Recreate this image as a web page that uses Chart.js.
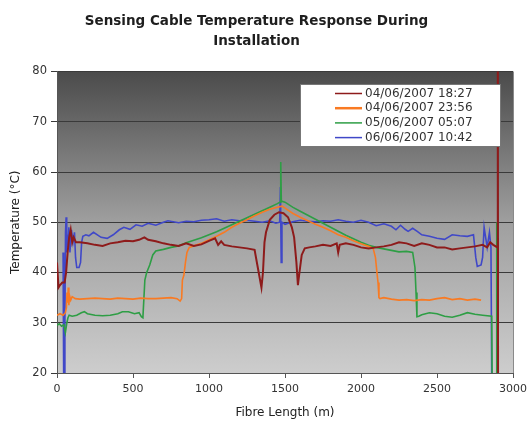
<!DOCTYPE html>
<html>
<head>
<meta charset="utf-8">
<script src="https://cdn.jsdelivr.net/npm/chart.js@4/dist/chart.umd.min.js"></script>
<style>
  html, body { margin: 0; padding: 0; background: #fff; }
</style>
</head>
<body>
<canvas id="cableChart" width="528" height="421"></canvas>
<script>
const seriesLabels = ['04/06/2007 18:27', '04/06/2007 23:56', '05/06/2007 05:07', '06/06/2007 10:42'];
const seriesColors = ['#8e1b1b', '#f97a22', '#2e9e45', '#4048c8'];
const xTicks = [0, 500, 1000, 1500, 2000, 2500, 3000];
const yTicks = [20, 30, 40, 50, 60, 70, 80];

// 04/06/2007 18:27
const redFibre = [0, 10, 20, 35, 50, 60, 70, 80, 90, 100, 110, 125, 150, 200, 250, 300, 350, 400, 450, 500, 540, 575, 600, 650, 700, 750, 800, 850, 900, 950, 1000, 1040, 1060, 1080, 1100, 1150, 1200, 1250, 1300, 1315, 1330, 1345, 1355, 1365, 1375, 1400, 1430, 1460, 1490, 1520, 1545, 1560, 1575, 1585, 1595, 1610, 1630, 1660, 1700, 1750, 1800, 1840, 1850, 1860, 1900, 1950, 2000, 2050, 2100, 2150, 2200, 2250, 2300, 2350, 2400, 2450, 2500, 2550, 2600, 2650, 2700, 2750, 2800, 2830, 2850, 2870, 2898, 2900, 2902];
const redTemp  = [42, 37, 37.5, 38, 38, 40, 44, 47, 48.5, 46, 47, 46, 46, 45.8, 45.5, 45.3, 45.8, 46, 46.3, 46.2, 46.5, 47, 46.5, 46.2, 45.8, 45.5, 45.3, 45.8, 45.3, 45.6, 46.3, 46.8, 45.5, 46.2, 45.5, 45.2, 45, 44.8, 44.5, 42, 39.5, 37, 40, 46, 48, 50.5, 51.5, 52, 51.8, 51, 49, 47, 42, 37.5, 40, 43.5, 44.8, 45, 45.2, 45.5, 45.3, 45.8, 44, 45.5, 45.8, 45.5, 45, 44.8, 45, 45.2, 45.5, 46, 45.8, 45.3, 45.8, 45.5, 45, 45, 44.6, 44.8, 45, 45.2, 45.5, 45, 46, 45.5, 45, 100, 10];

// 04/06/2007 23:56
const orangeFibre = [0, 20, 40, 55, 62, 66, 70, 74, 78, 82, 90, 100, 120, 150, 200, 250, 300, 350, 400, 450, 500, 550, 600, 650, 700, 750, 790, 810, 820, 825, 835, 845, 855, 870, 900, 950, 1000, 1050, 1100, 1150, 1200, 1250, 1300, 1350, 1400, 1450, 1480, 1500, 1550, 1600, 1650, 1700, 1750, 1800, 1850, 1900, 1950, 2000, 2050, 2080, 2095, 2105, 2112, 2118, 2125, 2150, 2200, 2250, 2300, 2350, 2400, 2450, 2500, 2550, 2600, 2650, 2700, 2750, 2790];
const orangeTemp  = [31.5, 31.8, 31.5, 32, 33, 36, 34, 37, 33.5, 35.5, 34.5, 35.2, 34.8, 34.7, 34.8, 34.9, 34.8, 34.7, 34.9, 34.8, 34.7, 34.9, 34.8, 34.8, 34.9, 35, 34.8, 34.3, 34.8, 38.5, 39.5, 42, 44, 45, 45.3, 45.8, 46.5, 47.2, 48, 49, 49.8, 50.5, 51.3, 52, 52.6, 53, 53.2, 52.8, 51.8, 51, 50.3, 49.6, 49, 48.3, 47.5, 47, 46.3, 45.7, 45.2, 44.8, 43, 40, 38, 35, 34.8, 35, 34.7, 34.5, 34.6, 34.4, 34.6, 34.5, 34.8, 35, 34.6, 34.8, 34.5, 34.7, 34.5];

// 05/06/2007 05:07
const greenFibre = [0, 15, 30, 45, 55, 65, 72, 80, 100, 130, 160, 180, 200, 250, 300, 350, 400, 430, 470, 510, 540, 555, 565, 572, 578, 590, 610, 630, 650, 700, 750, 800, 850, 900, 950, 1000, 1050, 1100, 1150, 1200, 1250, 1300, 1350, 1400, 1450, 1468, 1472, 1476, 1500, 1550, 1600, 1650, 1700, 1750, 1800, 1850, 1900, 1950, 2000, 2050, 2100, 2150, 2200, 2250, 2300, 2340, 2355, 2362, 2368, 2380, 2400, 2450, 2500, 2550, 2600, 2650, 2700, 2750, 2800, 2860, 2865, 2890, 2893, 2896];
const greenTemp  = [29.5, 29.8, 29.3, 29.6, 28, 30, 31, 31.5, 31.3, 31.5, 32, 32.2, 31.8, 31.5, 31.4, 31.5, 31.8, 32.2, 32.2, 31.8, 32, 31.2, 31, 35, 38.5, 40, 41.5, 43.5, 44.3, 44.6, 45, 45.3, 45.9, 46.4, 46.9, 47.5, 48.1, 48.8, 49.5, 50.2, 50.9, 51.6, 52.3, 53, 53.7, 54, 62, 54.2, 54, 53, 52.2, 51.4, 50.6, 49.8, 49, 48.2, 47.4, 46.7, 46, 45.4, 45, 44.7, 44.4, 44.1, 44.2, 44, 41, 36, 31.2, 31.3, 31.6, 32, 31.8, 31.3, 31.1, 31.5, 32, 31.7, 31.5, 31.3, 10, 10, 50, 10];

// 06/06/2007 10:42
const blueFibre = [40, 44, 48, 52, 56, 60, 64, 68, 72, 78, 85, 95, 105, 115, 122, 130, 145, 155, 162, 170, 190, 210, 240, 290, 330, 370, 410, 440, 480, 520, 560, 600, 650, 700, 730, 800, 850, 900, 950, 1000, 1050, 1100, 1150, 1200, 1250, 1300, 1350, 1400, 1440, 1465, 1470, 1475, 1480, 1500, 1550, 1600, 1650, 1700, 1750, 1800, 1850, 1900, 1950, 2000, 2050, 2100, 2150, 2200, 2230, 2260, 2290, 2310, 2340, 2370, 2400, 2450, 2500, 2550, 2600, 2650, 2700, 2740, 2755, 2765, 2790, 2800, 2810, 2820, 2830, 2845, 2855, 2860, 2862];
const blueTemp  = [44, 18, 15, 30, 48, 51, 44, 47.5, 45, 49, 44, 48.5, 46, 48, 43, 41, 41, 42, 46, 47.2, 47.5, 47.3, 48, 47, 46.8, 47.5, 48.5, 49, 48.6, 49.5, 49.2, 49.8, 49.4, 50, 50.3, 49.9, 50.2, 50.1, 50.4, 50.5, 50.7, 50.2, 50.5, 50.3, 50.4, 50.2, 50, 50.3, 49.8, 50, 57, 42, 50, 49.6, 50.1, 50.4, 50.2, 50.1, 50.3, 50.2, 50.5, 50.2, 50, 50.4, 50, 49.3, 49.7, 49.2, 48.5, 49.4, 48.6, 48.2, 48.8, 48.2, 47.5, 47.2, 46.8, 46.6, 47.5, 47.3, 47.2, 47.5, 43, 41.2, 41.5, 43, 49, 47, 45, 48, 45, 20, 10];

const fibreSets = [redFibre, orangeFibre, greenFibre, blueFibre];
const tempSets = [redTemp, orangeTemp, greenTemp, blueTemp];

const plotBackground = {
  id: 'plotBackground',
  beforeDraw(chart) {
    const { ctx, chartArea: a } = chart;
    const g = ctx.createLinearGradient(0, a.top, 0, a.bottom);
    g.addColorStop(0, '#4b4b4b');
    g.addColorStop(0.5, '#9f9f9f');
    g.addColorStop(1, '#cdcdcd');
    ctx.save();
    ctx.fillStyle = g;
    ctx.fillRect(a.left, a.top, a.right - a.left, a.bottom - a.top);
    ctx.restore();
  },
  afterDraw(chart) {
    const { ctx, chartArea: a } = chart;
    ctx.save();
    ctx.strokeStyle = '#8a8a8a';
    ctx.lineWidth = 1;
    ctx.beginPath();
    ctx.moveTo(a.right + 0.5, a.top);
    ctx.lineTo(a.right + 0.5, a.bottom);
    ctx.stroke();

    // legend box
    const bx = 300, by = 84, bw = 200, bh = 62;
    ctx.fillStyle = '#ffffff';
    ctx.fillRect(bx, by, bw, bh);
    ctx.strokeStyle = '#777';
    ctx.strokeRect(bx + 0.5, by + 0.5, bw, bh);
    ctx.font = '12px "DejaVu Sans"';
    ctx.textBaseline = 'middle';
    ctx.fillStyle = '#333';
    seriesLabels.forEach((label, i) => {
      const y = by + 9.5 + i * 14.7;
      ctx.strokeStyle = seriesColors[i];
      ctx.lineWidth = i === 1 ? 2.5 : 1.5;
      ctx.beginPath();
      ctx.moveTo(335, y);
      ctx.lineTo(362, y);
      ctx.stroke();
      ctx.fillText(label, 365, y);
    });
    ctx.restore();
  }
};

new Chart(document.getElementById('cableChart'), {
  type: 'line',
  data: {
    datasets: seriesLabels.map((label, i) => ({
      label: label,
      data: fibreSets[i].map((x, j) => ({ x: x, y: tempSets[i][j] })),
      borderColor: seriesColors[i],
      borderWidth: i === 0 ? 2 : 1.6,
      pointRadius: 0,
      tension: 0,
      fill: false
    }))
  },
  options: {
    responsive: false,
    animation: false,
    layout: { padding: { left: 0, right: 15, top: 0, bottom: 0 } },
    plugins: {
      legend: { display: false },
      tooltip: { enabled: false },
      title: {
        display: true,
        text: ['Sensing Cable Temperature Response During', 'Installation'],
        color: '#1e1e1e',
        font: { family: 'DejaVu Sans', size: 13.5, weight: 'bold', lineHeight: 1.5 },
        padding: { top: 11, bottom: 20 }
      }
    },
    scales: {
      x: {
        type: 'linear',
        min: 0,
        max: 3000,
        afterBuildTicks: (scale) => { scale.ticks = xTicks.map(v => ({ value: v })); },
        afterFit: (scale) => { scale.height = 48; scale.paddingRight = 0; scale.paddingLeft = 0; },
        border: { color: '#555', width: 1 },
        grid: { drawOnChartArea: false, drawTicks: true, tickLength: 5, color: '#555' },
        ticks: { color: '#333', font: { family: 'DejaVu Sans', size: 11 }, padding: 5, maxRotation: 0, callback: (v) => String(v) },
        title: { display: true, text: 'Fibre Length (m)', color: '#222', font: { family: 'DejaVu Sans', size: 12 }, padding: { top: 0, bottom: 1 } }
      },
      y: {
        min: 20,
        max: 80,
        afterBuildTicks: (scale) => { scale.ticks = yTicks.map(v => ({ value: v })); },
        afterFit: (scale) => { scale.width = 57; },
        border: { color: '#555', width: 1 },
        grid: { color: '#3a3a3a', lineWidth: 1, drawTicks: true, tickLength: 6 },
        ticks: { color: '#333', font: { family: 'DejaVu Sans', size: 11.5 }, padding: 4, callback: (v) => String(v) },
        title: { display: true, text: 'Temperature (°C)', color: '#222', font: { family: 'DejaVu Sans', size: 12 }, padding: { top: 9, bottom: 0 } }
      }
    }
  },
  plugins: [plotBackground]
});
</script>
</body>
</html>
